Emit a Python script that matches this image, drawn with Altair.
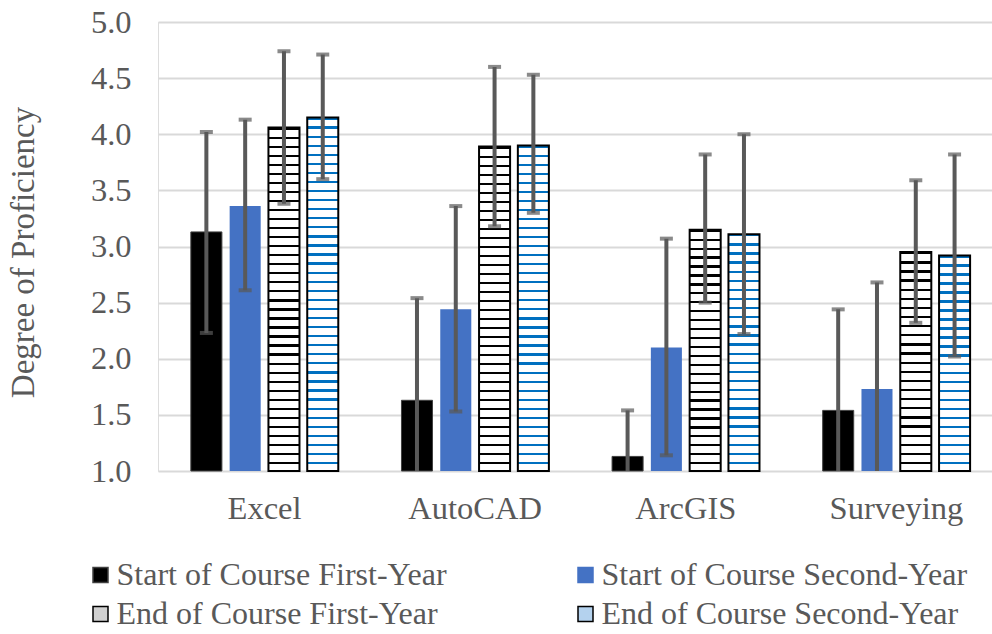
import altair as alt
import pandas as pd

categories = ["Excel", "AutoCAD", "ArcGIS", "Surveying"]
series = ["Start of Course First-Year", "Start of Course Second-Year",
          "End of Course First-Year", "End of Course Second-Year"]
legend_order = [series[0], series[2], series[1], series[3]]

start_first = [3.13, 1.63, 1.13, 1.54]
start_second = [3.36, 2.44, 2.10, 1.73]
end_first = [4.06, 3.89, 3.15, 2.95]
end_second = [4.15, 3.90, 3.11, 2.92]

start_first_lo = [2.23, 0.72, 0.72, 0.64]
start_first_hi = [4.02, 2.54, 1.54, 2.44]
start_second_lo = [2.61, 1.53, 1.14, 0.78]
start_second_hi = [4.13, 3.36, 3.07, 2.68]
end_first_lo = [3.38, 3.18, 2.50, 2.32]
end_first_hi = [4.74, 4.60, 3.82, 3.59]
end_second_lo = [3.60, 3.30, 2.22, 2.02]
end_second_hi = [4.71, 4.53, 4.00, 3.82]

means = [start_first, start_second, end_first, end_second]
lows = [start_first_lo, start_second_lo, end_first_lo, end_second_lo]
highs = [start_first_hi, start_second_hi, end_first_hi, end_second_hi]

rows = []
for s, m, lo, hi in zip(series, means, lows, highs):
    for c, v, a, b in zip(categories, m, lo, hi):
        rows.append({"category": c, "series": s, "value": v, "lo": a, "hi": b})
df = pd.DataFrame(rows)

FONT = "Liberation Serif"
FS = 32.5
LFS = 32
GRAY = "#595959"
BLUE = "#4472C4"
PAT_BLACK = "#000000"
PAT_BLUE = "#0070C0"
fill_colors = {series[0]: "black", series[1]: BLUE, series[2]: "#d0d0d0", series[3]: "#b4d2ee"}
stroke_colors = {series[0]: "#404040", series[1]: BLUE, series[2]: "black", series[3]: "black"}


def stripes(color, n, frac=0.25):
    stops = []
    for i in range(n):
        a = i / n
        b = (i + 1 - frac) / n
        c = (i + 1) / n
        stops += [alt.GradientStop(offset=a, color="white"),
                  alt.GradientStop(offset=b, color="white"),
                  alt.GradientStop(offset=b, color=color),
                  alt.GradientStop(offset=c, color=color)]
    return alt.LinearGradient(gradient="linear", stops=stops, x1=0, x2=0, y1=1, y2=0)


x_enc = alt.X("category:N", sort=categories, title=None,
              scale=alt.Scale(domain=categories, paddingInner=0.3, paddingOuter=0.13, align=0.6),
              axis=alt.Axis(labelFont=FONT, labelFontSize=FS, labelColor=GRAY, labelAngle=0,
                            ticks=False, domain=False, labelPadding=21))
xo_enc = alt.XOffset("series:N", sort=series,
                     scale=alt.Scale(domain=series, paddingInner=0.2, paddingOuter=0))
y_scale = alt.Scale(domain=[1, 5], zero=False, nice=False)
y_axis = alt.Axis(title="Degree of Proficiency", titleFont=FONT, titleFontSize=33,
                  titleFontWeight="normal", titleColor=GRAY, titlePadding=50, titleY=230,
                  labelFont=FONT, labelFontSize=FS, labelColor=GRAY, format=".1f",
                  values=[1.0, 1.5, 2.0, 2.5, 3.0, 3.5, 4.0, 4.5, 5.0],
                  ticks=False, domain=False, labelPadding=27,
                  grid=True, gridColor="#d9d9d9", gridWidth=2)

legend = alt.Legend(title=None, orient="none", legendX=-73.5, legendY=537,
                    columns=2, columnPadding=122, rowPadding=7,
                    symbolType="square", symbolSize=225,
                    symbolStrokeWidth=1.5, labelOffset=0,
                    labelFont=FONT, labelFontSize=LFS, labelColor=GRAY,
                    labelLimit=700, padding=0)

color_enc = alt.Color("series:N", sort=legend_order,
                      scale=alt.Scale(domain=legend_order,
                                      range=[fill_colors[s] for s in legend_order]),
                      legend=legend)
stroke_enc = alt.Stroke("series:N", sort=legend_order,
                        scale=alt.Scale(domain=legend_order,
                                        range=[stroke_colors[s] for s in legend_order]),
                        legend=legend)

base = alt.Chart(df)

layers = []
layers.append(base.transform_filter(alt.datum.series == series[0]).mark_bar(
    strokeWidth=1).encode(
    x=x_enc, xOffset=xo_enc,
    y=alt.Y("value:Q", scale=y_scale, axis=y_axis), y2=alt.datum(1),
    color=color_enc, stroke=stroke_enc))
layers.append(base.transform_filter(alt.datum.series == series[1]).mark_bar(strokeWidth=0).encode(
    x=x_enc, xOffset=xo_enc, y=alt.Y("value:Q"), y2=alt.datum(1),
    color=color_enc, stroke=stroke_enc))

for s, m, col in [(series[2], end_first, PAT_BLACK), (series[3], end_second, PAT_BLUE)]:
    for c, v in zip(categories, m):
        n = max(2, round((v - 1) * 12.5))
        layers.append(
            base.transform_filter((alt.datum.series == s) & (alt.datum.category == c))
            .mark_bar(fill=stripes(col, n), stroke="black", strokeWidth=2)
            .encode(x=x_enc, xOffset=xo_enc, y=alt.Y("value:Q"), y2=alt.datum(1)))

layers.append(base.mark_rule(color=GRAY, strokeWidth=4, clip=True).encode(
    x=x_enc, xOffset=xo_enc, y=alt.Y("lo:Q"), y2="hi:Q"))
layers.append(base.mark_tick(color=GRAY, thickness=4, size=13, clip=True).encode(
    x=x_enc, xOffset=xo_enc, y=alt.Y("hi:Q")))
layers.append(base.mark_tick(color=GRAY, thickness=4, size=13, clip=True).encode(
    x=x_enc, xOffset=xo_enc, y=alt.Y("lo:Q")))

chart = alt.layer(*layers).properties(
    width=834, height=449,
    autosize=alt.AutoSizeParams(type="none"),
    padding={"left": 158, "top": 22, "right": 0, "bottom": 163},
).configure_view(stroke=None).configure(background="white")

chart.save("out.html", embed_options={"renderer": "svg", "actions": False})
